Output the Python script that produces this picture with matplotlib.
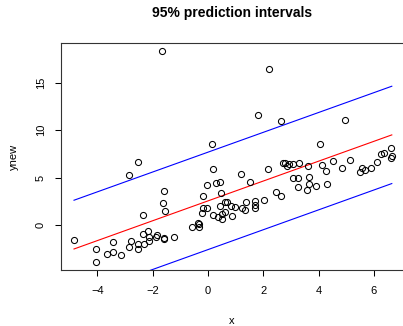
import numpy as np
import matplotlib
matplotlib.use("Agg")
import matplotlib.pyplot as plt

plt.rcParams['font.family'] = ['Liberation Sans', 'DejaVu Sans']

x = [-4.85, -4.04, -4.04, -3.64, -3.45, -3.45, -3.16, -2.87, -2.85, -2.77,
     -2.53, -2.53, -2.53, -2.35, -2.35, -2.32, -2.17, -2.15, -2.15, -1.88,
     -1.83, -1.66, -1.62, -1.60, -1.60, -1.59, -1.56, -1.24, -0.59, -0.35,
     -0.34, -0.34, -0.23, -0.17, -0.17, -0.02, -0.02, 0.16, 0.19, 0.19,
     0.29, 0.37, 0.43, 0.43, 0.47, 0.51, 0.52, 0.62, 0.62, 0.68,
     0.84, 0.86, 0.99, 1.21, 1.23, 1.35, 1.39, 1.51, 1.71, 1.71,
     1.71, 1.81, 2.04, 2.16, 2.20, 2.45, 2.63, 2.64, 2.71, 2.77,
     2.86, 2.94, 3.09, 3.09, 3.24, 3.29, 3.27, 3.59, 3.62, 3.64,
     3.66, 3.92, 4.04, 4.11, 4.28, 4.31, 4.51, 4.86, 4.97, 5.14,
     5.50, 5.57, 5.67, 5.90, 6.10, 6.25, 6.36, 6.62, 6.65, 6.62]
ynew = [-1.58, -2.50, -3.87, -3.06, -1.76, -2.82, -3.20, 5.28, -2.32, -1.65,
        6.62, -1.97, -2.50, 1.09, -0.92, -1.97, -0.60, -1.27, -1.73, -1.23,
        -1.09, 18.38, 2.29, -1.37, -1.44, 3.59, 1.51, -1.23, -0.18, 0.25,
        -0.21, 0.10, 1.30, 3.03, 1.80, 1.76, 4.19, 8.56, 5.95, 1.06,
        4.40, 0.81, 4.54, 2.01, 3.42, 1.16, 0.60, 1.34, 2.46, 2.43,
        2.04, 0.99, 1.90, 5.42, 1.83, 1.62, 2.46, 4.58, 2.54, 2.08,
        1.80, 11.65, 2.64, 5.92, 16.44, 3.52, 3.03, 10.99, 6.58, 6.51,
        6.23, 6.44, 6.44, 4.93, 4.96, 6.58, 4.05, 3.70, 6.23, 5.04,
        4.37, 4.12, 8.56, 6.34, 5.70, 4.37, 6.73, 5.99, 11.13, 6.83,
        5.56, 6.02, 5.81, 5.99, 6.69, 7.54, 7.61, 8.13, 7.32, 7.04]

# fitted line and 95% prediction limits at the ends of the x range
xline = [-4.85, 6.65]
fit = [-2.54, 9.51]
upr = [2.61, 14.65]
lwr = [-7.69, 4.37]

W, H = 403, 326
fig = plt.figure(figsize=(W / 100, H / 100), dpi=100)
ax = fig.add_axes([61.3 / W, 1 - 270 / H, 343.2 / W, 227.5 / H])

ax.plot(x, ynew, 'o', mfc='none', mec='black', ms=4.4, mew=0.75, zorder=3)
ax.plot(xline, fit, color='red', lw=0.8)
ax.plot(xline, upr, color='blue', lw=0.8)
ax.plot(xline, lwr, color='blue', lw=0.8)

ax.set_xlim(-5.31, 7.11)
ax.set_ylim(-4.76, 19.27)
ax.set_xticks([-4, -2, 0, 2, 4, 6])
ax.set_yticks([0, 5, 10, 15])
ax.tick_params(length=4.3, width=0.75, labelsize=8, pad=7, colors='black')
plt.setp(ax.get_yticklabels(), rotation=90, va='center')
for s in ax.spines.values():
    s.set_linewidth(0.8)
    s.set_color('#333333')

fig.text(232 / W, 1 - 13.5 / H, '95% prediction intervals', ha='center',
         va='center', fontsize=10, fontweight='bold')
fig.text(232 / W, 1 - 321 / H, 'x', ha='center', va='center', fontsize=8)
fig.text(14 / W, 1 - 157 / H, 'ynew', ha='center', va='center', fontsize=8,
         rotation=90)

fig.savefig('out.png', dpi=100)
